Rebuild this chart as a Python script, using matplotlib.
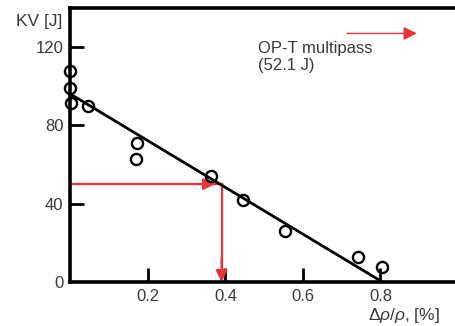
import matplotlib
matplotlib.use('Agg')
import matplotlib.pyplot as plt

plt.rcParams['font.family'] = ['Liberation Sans', 'DejaVu Sans']
plt.rcParams['mathtext.fontset'] = 'custom'
plt.rcParams['mathtext.rm'] = 'Liberation Sans'
plt.rcParams['mathtext.it'] = 'Liberation Sans:italic'

# measured points
drho = [0.0, 0.0, 0.002, 0.046, 0.171, 0.169, 0.362, 0.446, 0.553, 0.743, 0.805]
kv = [107.8, 98.9, 91.6, 89.9, 71.1, 62.7, 54.3, 41.9, 26.2, 12.9, 7.5]

# fit line end points
fit_x = [0.0, 0.805]
fit_y = [96.0, 0.0]

# read-off for OP-T multipass
kv_opt = 50.0
drho_opt = 0.39

xticks = [0.2, 0.4, 0.6, 0.8]
xticklabels = ['0.2', '0.4', '0.6', '0.8']
yticks = [0, 40, 80, 120]
yticklabels = ['0', '40', '80', '120']

red = '#e8333a'
grey = '#3a3a3a'

fig = plt.figure(figsize=(4.56, 3.26), dpi=100)
ax = fig.add_axes([0.1546, 0.135, 0.8454, 0.8405])

ax.plot(fit_x, fit_y, color='black', lw=2.0, zorder=3)
ax.plot(drho, kv, 'o', mfc='none', mec='black', ms=8, mew=1.7, zorder=4, clip_on=False)

# red read-off lines with arrowheads
ax.plot([0, drho_opt], [kv_opt, kv_opt], color=red, lw=1.6, zorder=2)
ax.plot([drho_opt, drho_opt], [kv_opt, 0], color=red, lw=1.6, zorder=2)
ax.annotate('', xy=(drho_opt - 0.017, kv_opt), xytext=(drho_opt - 0.06, kv_opt),
            arrowprops=dict(arrowstyle='-|>', color=red, lw=1.6, mutation_scale=17,
                            shrinkA=0, shrinkB=0), zorder=2)
ax.annotate('', xy=(drho_opt, 0), xytext=(drho_opt, 12),
            arrowprops=dict(arrowstyle='-|>', color=red, lw=1.6, mutation_scale=17,
                            shrinkA=0, shrinkB=0), zorder=2)
ax.annotate('', xy=(0.894, 127), xytext=(0.714, 127),
            arrowprops=dict(arrowstyle='-|>', color=red, lw=1.0, mutation_scale=20,
                            shrinkA=0, shrinkB=0))

ax.text(0.484, 123, 'OP-T multipass\n(52.1 J)', fontsize=12, color=grey,
        va='top', ha='left', linespacing=1.15)

ax.set_xlim(0, 0.995)
ax.set_ylim(0, 140)
ax.set_xticks(xticks)
ax.set_xticklabels(xticklabels)
ax.set_yticks(yticks)
ax.set_yticklabels(yticklabels)
ax.tick_params(direction='in', length=10, width=2.0, labelsize=12,
               labelcolor=grey, pad=5)
ax.yaxis.get_major_ticks()[0].tick1line.set_visible(False)

ax.spines['right'].set_visible(False)
for s in ['left', 'top', 'bottom']:
    ax.spines[s].set_linewidth(2.6)

fig.text(0.137, 0.933, 'KV [J]', fontsize=12.5, color=grey, ha='right', va='center')
fig.text(0.807, 0.033, r'$\Delta\rho/\rho$, [%]', fontsize=12.5, color=grey,
         ha='left', va='center')

fig.savefig('out.png', dpi=100)
